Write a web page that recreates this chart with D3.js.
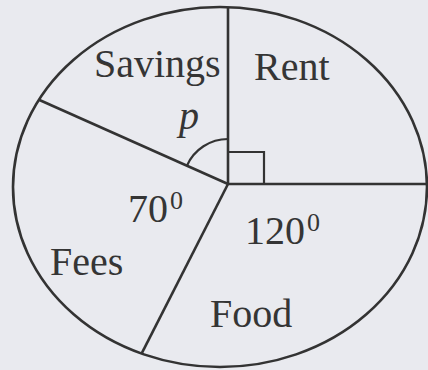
<html><head>
<script src="https://cdn.jsdelivr.net/npm/d3@7"></script>
<style>
  body { margin: 0; background: #e9eaef; }
  svg { display: block; }
  .lbl { font-family: "Liberation Serif", "DejaVu Serif", serif; fill: #353535; }
</style>
</head>
<body>
<svg width="428" height="370"></svg>
<script>

// slices in drawing order (clockwise from 12 o'clock)
const categories = ["Rent", "Food", "Fees", "Savings"];
// sweep of each sector as drawn in the figure (degrees)
const drawnAngles = [90, 117, 87, 66];
// angle labels written on the figure
const angleTexts = ["", "120", "70", ""];

const svg = d3.select("svg");

// outline is a slightly squashed circle, pie centre a bit off its middle
const ell = { cx: 220, cy: 187, rx: 207, ry: 180 };
const ctr = { x: 228, y: 184 };
const ink = "#333";

const pie = d3.pie().sort(null).value(d => d)(drawnAngles);

// end point of a ray from the centre on the ellipse
function rayEnd(a) {
  let dx = Math.sin(a), dy = -Math.cos(a);
  let ox = (ctr.x - ell.cx) / ell.rx, oy = (ctr.y - ell.cy) / ell.ry;
  let ux = dx / ell.rx, uy = dy / ell.ry;
  let A = ux * ux + uy * uy, B = 2 * (ox * ux + oy * uy), C = ox * ox + oy * oy - 1;
  let t = (-B + Math.sqrt(B * B - 4 * A * C)) / (2 * A);
  return [ctr.x + t * dx, ctr.y + t * dy];
}

svg.append("ellipse")
    .attr("cx", ell.cx).attr("cy", ell.cy)
    .attr("rx", ell.rx).attr("ry", ell.ry)
    .style("fill", "none").style("stroke", ink).style("stroke-width", 2.6);

// one radius per slice boundary
svg.selectAll("line.edge")
  .data(pie)
  .enter().append("line")
    .attr("class", "edge")
    .attr("x1", ctr.x).attr("y1", ctr.y)
    .attr("x2", d => rayEnd(d.startAngle)[0])
    .attr("y2", d => rayEnd(d.startAngle)[1])
    .style("stroke", ink).style("stroke-width", 2.6);

// right angle mark in Rent
svg.append("path")
    .attr("d", `M${ctr.x},${ctr.y - 32} h36 v32`)
    .style("fill", "none").style("stroke", ink).style("stroke-width", 2.2);

// arc for p in Savings
let sav = pie[3];
let p = d3.path();
p.arc(ctr.x, ctr.y, 45, sav.startAngle - Math.PI / 2, sav.endAngle - Math.PI / 2);
svg.append("path")
    .attr("d", p.toString())
    .style("fill", "none").style("stroke", ink).style("stroke-width", 2.2);

// category labels
const labelPos = { Rent: [254, 80], Food: [210, 327], Fees: [50, 275], Savings: [94, 77] };
categories.forEach(function(c) {
  svg.append("text")
      .attr("class", "lbl")
      .attr("x", labelPos[c][0]).attr("y", labelPos[c][1])
      .style("font-size", "40px")
      .text(c);
});

// angle labels with degree superscript
const anglePos = [null, [245, 244], [128, 222], null];
angleTexts.forEach(function(t, i) {
  if (!t) return;
  let tx = svg.append("text")
      .attr("class", "lbl")
      .attr("x", anglePos[i][0]).attr("y", anglePos[i][1])
      .style("font-size", "40px");
  tx.append("tspan").text(t);
  tx.append("tspan").attr("dx", 2).attr("dy", -13).style("font-size", "26px").text("0");
});

svg.append("text")
    .attr("class", "lbl")
    .attr("x", 179).attr("y", 129)
    .style("font-size", "40px").style("font-style", "italic")
    .text("p");

</script>
</body>
</html>
